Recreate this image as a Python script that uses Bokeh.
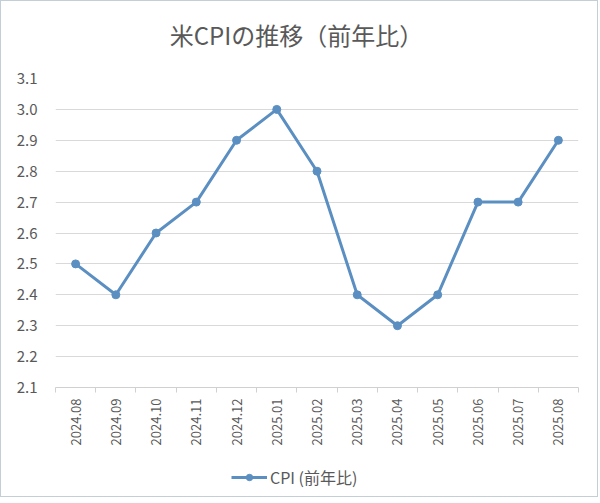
from bokeh.plotting import figure
from bokeh.layouts import column
from bokeh.models import FixedTicker, Legend, LegendItem, NumeralTickFormatter, Range1d, Label
from bokeh.embed import file_html
from bokeh.resources import INLINE
import math

# ---- data ----
months = ["2024.08", "2024.09", "2024.10", "2024.11", "2024.12", "2025.01",
          "2025.02", "2025.03", "2025.04", "2025.05", "2025.06", "2025.07", "2025.08"]
cpi = [2.5, 2.4, 2.6, 2.7, 2.9, 3.0, 2.8, 2.4, 2.3, 2.4, 2.7, 2.7, 2.9]
y_ticks = [2.1, 2.2, 2.3, 2.4, 2.5, 2.6, 2.7, 2.8, 2.9, 3.0, 3.1]
title_text = "米CPIの推移（前年比）"
series_name = "CPI (前年比)"

x = list(range(len(months)))
FONT = "Noto Sans CJK JP"
LINE_COLOR = "#5b8fc2"
TEXT_COLOR = "#595959"
W = 596
BL, BR = 54, 19


def strip(height, x_range=None):
    f = figure(width=W, height=height, output_backend="svg", toolbar_location=None,
               x_range=x_range or Range1d(0, 1), y_range=Range1d(0, 1),
               min_border_left=BL, min_border_right=BR, min_border_top=0, min_border_bottom=0)
    f.axis.visible = False
    f.grid.visible = False
    f.outline_line_color = None
    f.border_fill_color = "white"
    f.background_fill_color = "white"
    return f


# ---- title strip ----
tt = strip(60)
tt.add_layout(Label(x=241, y=27, x_units="screen", y_units="screen", text=title_text,
                    text_align="center", text_baseline="middle", text_font=FONT,
                    text_font_size="24px", text_color=TEXT_COLOR))

# ---- main chart ----
p = figure(width=W, height=402, output_backend="svg", toolbar_location=None,
           x_range=(-0.5, len(months) - 0.5), y_range=(y_ticks[0], y_ticks[-1]),
           min_border_left=BL, min_border_right=BR, min_border_top=17, min_border_bottom=76)
p.outline_line_color = None
p.background_fill_color = "white"
p.border_fill_color = "white"

p.yaxis.ticker = FixedTicker(ticks=y_ticks)
p.yaxis.formatter = NumeralTickFormatter(format="0.0")
p.yaxis.axis_line_color = None
p.yaxis.major_tick_line_color = None
p.yaxis.minor_tick_line_color = None
p.yaxis.major_label_text_font = FONT
p.yaxis.major_label_text_font_size = "15px"
p.yaxis.major_label_text_color = TEXT_COLOR
p.yaxis.major_label_standoff = 12
p.ygrid.ticker = FixedTicker(ticks=y_ticks)
p.ygrid.grid_line_color = "#d9d9d9"
p.ygrid.grid_line_width = 1

# x axis: labels at categories, tick marks at category boundaries
p.xaxis.ticker = FixedTicker(ticks=x, minor_ticks=[i - 0.5 for i in range(len(months) + 1)])
p.xaxis.major_label_overrides = {i: m for i, m in zip(x, months)}
p.xaxis.major_label_orientation = math.pi / 2
p.xaxis.major_tick_line_color = None
p.xaxis.major_tick_out = 0
p.xaxis.major_tick_in = 0
p.xaxis.minor_tick_line_color = "#d0d0d0"
p.xaxis.minor_tick_out = 5
p.xaxis.minor_tick_in = 0
p.xaxis.axis_line_color = "#d0d0d0"
p.xaxis.major_label_text_font = FONT
p.xaxis.major_label_text_font_size = "13px"
p.xaxis.major_label_text_color = TEXT_COLOR
p.xaxis.major_label_standoff = 6
p.xgrid.grid_line_color = None

p.line(x, cpi, line_color=LINE_COLOR, line_width=3)
p.scatter(x, cpi, marker="circle", size=8, fill_color=LINE_COLOR, line_color=LINE_COLOR)

# ---- legend strip (its series lies outside this strip's visible range) ----
lg = strip(33, x_range=Range1d(100, 101))
l_line = lg.line(x, cpi, line_color=LINE_COLOR, line_width=3)
l_pts = lg.scatter(x, cpi, marker="circle", size=8, fill_color=LINE_COLOR, line_color=LINE_COLOR)
legend = Legend(items=[LegendItem(label=series_name, renderers=[l_line, l_pts])],
                orientation="horizontal", location=(176, 7),
                label_text_font=FONT, label_text_font_size="16px", label_text_color=TEXT_COLOR,
                border_line_color=None, background_fill_alpha=0,
                glyph_width=36, glyph_height=16, label_standoff=3, padding=0, margin=0)
lg.add_layout(legend, "center")

layout = column(tt, p, lg, spacing=0, styles={"border": "1px solid #c3ced6"})
open("out.html", "w").write(file_html(layout, INLINE))
